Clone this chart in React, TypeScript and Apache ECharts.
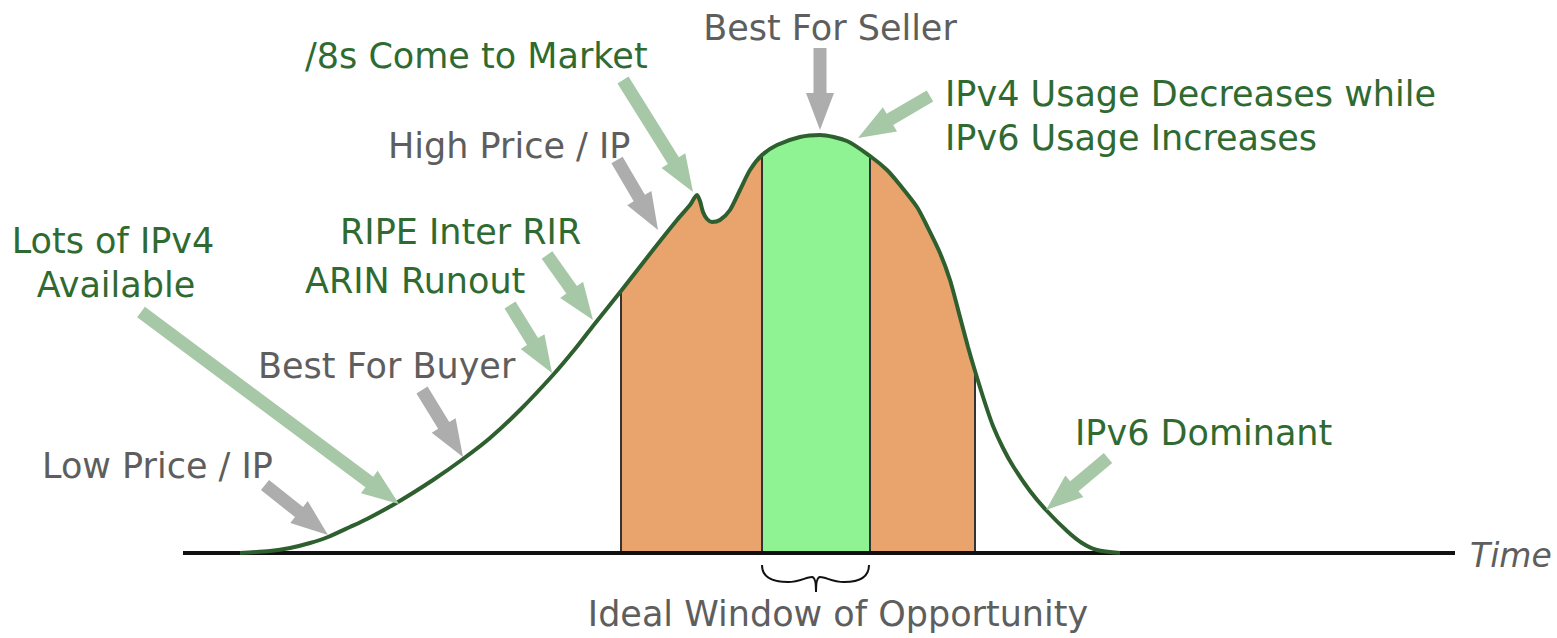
import React, { useEffect, useRef } from "react";
import * as echarts from "echarts";

// Curve: time (x) vs market price / demand (y)
const curveX = [240, 270, 290, 310, 328, 350, 367, 398, 433, 463, 490, 520, 553, 575, 593, 621, 653, 677, 690, 697, 700, 703, 707, 712, 720, 730, 740, 750, 762, 777, 800, 820, 847, 870, 887, 900, 917, 927, 940, 950, 960, 968, 975, 985, 993, 1003, 1013, 1030, 1046, 1067, 1082, 1097, 1120];
const curveY = [0, 2, 5, 10, 16, 26, 34, 51, 73, 94, 115, 143, 178, 204, 227, 262, 303, 333, 348, 358, 352, 341, 334, 331, 333, 343, 363, 383, 398, 408, 416, 418, 412, 397, 383, 368, 346, 327, 300, 273, 236, 206, 182, 150, 127, 105, 87, 62, 43, 22, 10, 3, 0];

// Window boundaries on the time axis
const phaseBounds = [621, 762, 870, 975];
const baseline = [183, 1455];

const annotations = [
  "Best For Seller",
  "/8s Come to Market",
  "IPv4 Usage Decreases while",
  "IPv6 Usage Increases",
  "High Price / IP",
  "RIPE Inter RIR",
  "ARIN Runout",
  "Lots of IPv4",
  "Available",
  "Best For Buyer",
  "Low Price / IP",
  "IPv6 Dominant",
  "Time",
  "Ideal Window of Opportunity",
];

const GREEN_TXT = "#2f6a31";
const GRAY_TXT = "#5e5e5e";
const GREEN_ARROW = "#a7c8a7";
const GRAY_ARROW = "#adadad";
const SMOOTH = 0.25;
const FONT = '"DejaVu Sans"';

const yAt = (x: number) => {
  const i = curveX.indexOf(x);
  return curveY[i];
};

const seg = (a: number, b: number) =>
  curveX.map((x, i) => [x, curveY[i]]).filter((p) => p[0] >= a && p[0] <= b);

export default function App() {
  const ref = useRef<HTMLDivElement>(null);
  useEffect(() => {
    document.body.style.margin = "0";
    const chart = echarts.init(ref.current!, null, { renderer: "svg" });
    const fill = (a: number, b: number, color: string) => ({
      type: "line",
      data: seg(a, b),
      showSymbol: false,
      smooth: SMOOTH,
      lineStyle: { width: 0 },
      areaStyle: { color, opacity: 1 },
      silent: true,
      z: 1,
    });
    chart.setOption({
      animation: false,
      grid: { left: 0, right: 0, top: 0, bottom: 0 },
      xAxis: { type: "value", min: 0, max: 1557, show: false },
      yAxis: { type: "value", min: -85, max: 553, show: false },
      series: [
        fill(phaseBounds[0], phaseBounds[1], "#e9a46d"),
        fill(phaseBounds[1], phaseBounds[2], "#8ff293"),
        fill(phaseBounds[2], phaseBounds[3], "#e9a46d"),
        {
          type: "line",
          data: [[baseline[0], 0], [baseline[1], 0]],
          showSymbol: false,
          lineStyle: { color: "#111", width: 4 },
          silent: true,
          z: 3,
        },
        {
          type: "line",
          data: curveX.map((x, i) => [x, curveY[i]]),
          showSymbol: false,
          smooth: SMOOTH,
          lineStyle: { color: "#2e5f2e", width: 4 },
          silent: true,
          z: 4,
          markLine: {
            silent: true,
            symbol: ["none", "none"],
            label: { show: false },
            lineStyle: { color: "#333", width: 2, type: "solid" },
            z: 2,
            data: phaseBounds.map((x) => [{ coord: [x, 0] }, { coord: [x, yAt(x) - 2] }]),
          },
        },
      ],
    });

    const px = (p: number[]) => chart.convertToPixel({ gridIndex: 0 }, [p[0], 553 - p[1]]) as number[];
    const arrowDefs: { from: number[]; to: number[]; color: string }[] = [
      { from: [265, 485], to: [328, 535], color: GRAY_ARROW },
      { from: [141, 312], to: [399, 504], color: GREEN_ARROW },
      { from: [422, 390], to: [463, 457], color: GRAY_ARROW },
      { from: [510, 305], to: [552, 373], color: GREEN_ARROW },
      { from: [547, 255], to: [593, 320], color: GREEN_ARROW },
      { from: [617, 160], to: [658, 230], color: GRAY_ARROW },
      { from: [623, 80], to: [693, 192], color: GREEN_ARROW },
      { from: [820, 48], to: [820, 130], color: GRAY_ARROW },
      { from: [930, 96], to: [858, 138], color: GREEN_ARROW },
      { from: [1108, 458], to: [1046, 510], color: GREEN_ARROW },
    ];
    const arrow = (T: number[], P: number[], color: string) => {
      const dx = P[0] - T[0];
      const dy = P[1] - T[1];
      const len = Math.hypot(dx, dy);
      const ux = dx / len, uy = dy / len;
      const nx = -uy, ny = ux;
      const L = 37, H = 14, S = 6.5;
      const bx = P[0] - ux * L, by = P[1] - uy * L;
      return {
        type: "polygon",
        shape: {
          points: [
            [T[0] + nx * S, T[1] + ny * S],
            [bx + nx * S, by + ny * S],
            [bx + nx * H, by + ny * H],
            [P[0], P[1]],
            [bx - nx * H, by - ny * H],
            [bx - nx * S, by - ny * S],
            [T[0] - nx * S, T[1] - ny * S],
          ],
        },
        style: { fill: color },
        silent: true,
        z: 10,
      };
    };

    echarts.graphic.registerShape(
      "brace",
      echarts.graphic.extendPath(
        "M0,0 C0,12 10,17 26,17 C38,17 44,12 50,12 C53,12 54,18 54,27 C54,18 55,12 58,12 C64,12 70,17 82,17 C98,17 107,12 107,0",
        {}
      )
    );

    const txt = (
      text: string,
      x: number,
      y: number,
      color: string,
      align: string = "left",
      extra: any = {}
    ) => ({
      type: "text",
      x,
      y,
      silent: true,
      z: 20,
      style: {
        text,
        fill: color,
        font: `${extra.fontStyle || "normal"} 400 ${extra.fontSize || 35}px ${FONT}`,
        textAlign: align,
        textVerticalAlign: "middle",
      },
    });

    const A = annotations;
    const bracePos = px([phaseBounds[1], 565]);
    chart.setOption({
      graphic: [
        ...arrowDefs.map((a) => arrow(px(a.from), px(a.to), a.color)),
        {
          type: "brace",
          x: bracePos[0],
          y: bracePos[1],
          style: { fill: "none", stroke: "#111", lineWidth: 2 },
          silent: true,
          z: 10,
        },
        txt(A[0], 830, 28, GRAY_TXT, "center"),
        txt(A[1], 305, 56, GREEN_TXT),
        txt(A[2], 945, 94, GREEN_TXT),
        txt(A[3], 945, 138, GREEN_TXT),
        txt(A[4], 388, 146, GRAY_TXT),
        txt(A[5], 340, 232, GREEN_TXT),
        txt(A[6], 305, 281, GREEN_TXT),
        txt(A[7], 113, 241, GREEN_TXT, "center"),
        txt(A[8], 116, 285, GREEN_TXT, "center"),
        txt(A[9], 258, 366, GRAY_TXT),
        txt(A[10], 42, 466, GRAY_TXT),
        txt(A[11], 1075, 433, GREEN_TXT),
        txt(A[12], 1470, 555, GRAY_TXT, "left", { fontStyle: "italic", fontSize: 33 }),
        txt(A[13], 838, 614, GRAY_TXT, "center"),
      ],
    });
    return () => chart.dispose();
  }, []);
  return <div ref={ref} style={{ width: 1557, height: 638 }} />;
}
